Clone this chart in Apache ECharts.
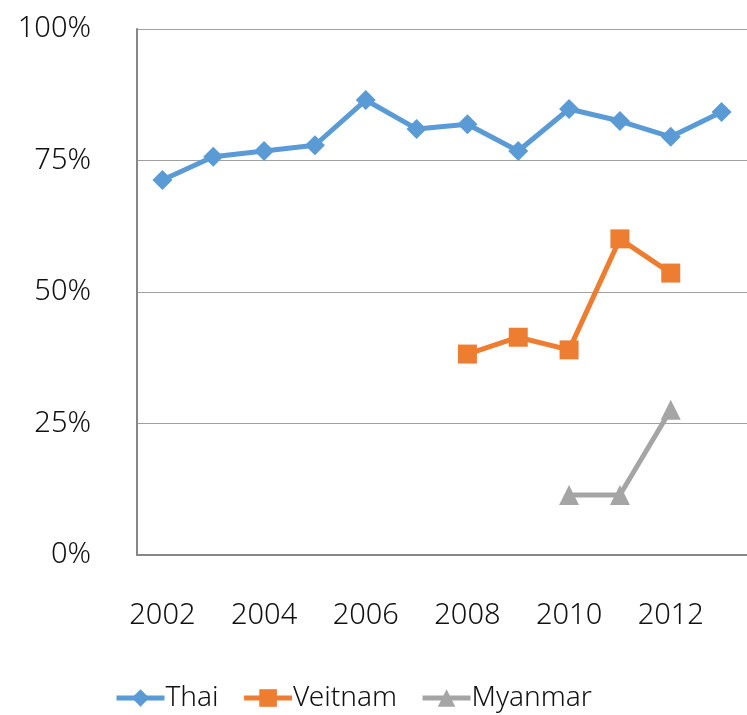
<!DOCTYPE html>
<html><head><meta charset="utf-8">
<script src="https://cdn.jsdelivr.net/npm/echarts@6/dist/echarts.min.js"></script>
<style>html,body{margin:0;padding:0;background:#fff}#c{width:747px;height:715px}</style>
</head><body><div id="c"></div>
<script>
const years = ['2002','2003','2004','2005','2006','2007','2008','2009','2010','2011','2012','2013'];
const thai = [71.3, 75.7, 76.8, 77.9, 86.5, 81.0, 81.9, 76.8, 84.8, 82.5, 79.5, 84.2];
const vietnam = [null, null, null, null, null, null, 38.2, 41.4, 39.0, 60.1, 53.6, null];
const myanmar = [null, null, null, null, null, null, null, null, 11.4, 11.4, 27.6, null];
const yTicks = [0, 25, 50, 75, 100];

const FONT = '"Noto Sans", sans-serif';
const chart = echarts.init(document.getElementById('c'), null, {renderer: 'canvas'});
chart.setOption({
  animation: false,
  backgroundColor: '#fff',
  grid: {left: 137, top: 29, width: 614, height: 526},
  xAxis: {
    type: 'category', data: years, boundaryGap: true,
    axisLine: {lineStyle: {color: '#878787', width: 2}},
    axisTick: {show: false},
    axisLabel: {interval: 1, margin: 46, fontSize: 29, fontWeight: 300, color: '#111', fontFamily: FONT}
  },
  yAxis: {
    type: 'value', min: yTicks[0], max: yTicks[yTicks.length-1], interval: 25,
    axisLine: {show: true, lineStyle: {color: '#878787', width: 2}},
    axisTick: {show: false},
    splitLine: {lineStyle: {color: '#a0a0a0', width: 1}},
    axisLabel: {formatter: '{value}%', margin: 46, fontSize: 29, fontWeight: 300, color: '#111', fontFamily: FONT}
  },
  legend: {
    bottom: 3, left: 114, padding: 0,
    itemWidth: 48, itemHeight: 22, itemGap: 23,
    lineStyle: {width: 5},
    textStyle: {fontSize: 28, fontWeight: 300, color: '#111', fontFamily: FONT, padding: [0,0,0,-4]},
    data: ['Thai', 'Veitnam', 'Myanmar']
  },
  series: [
    {name: 'Thai', type: 'line', data: thai, color: '#5B9BD5',
     lineStyle: {width: 5}, symbol: 'diamond', symbolSize: 20,
     itemStyle: {color: '#5B9BD5'}},
    {name: 'Veitnam', type: 'line', data: vietnam, color: '#ED7D31',
     lineStyle: {width: 5}, symbol: 'rect', symbolSize: 19,
     itemStyle: {color: '#ED7D31'}},
    {name: 'Myanmar', type: 'line', data: myanmar, color: '#A5A5A5',
     lineStyle: {width: 5}, symbol: 'triangle', symbolSize: 20,
     itemStyle: {color: '#A5A5A5'}}
  ]
});
</script></body></html>
